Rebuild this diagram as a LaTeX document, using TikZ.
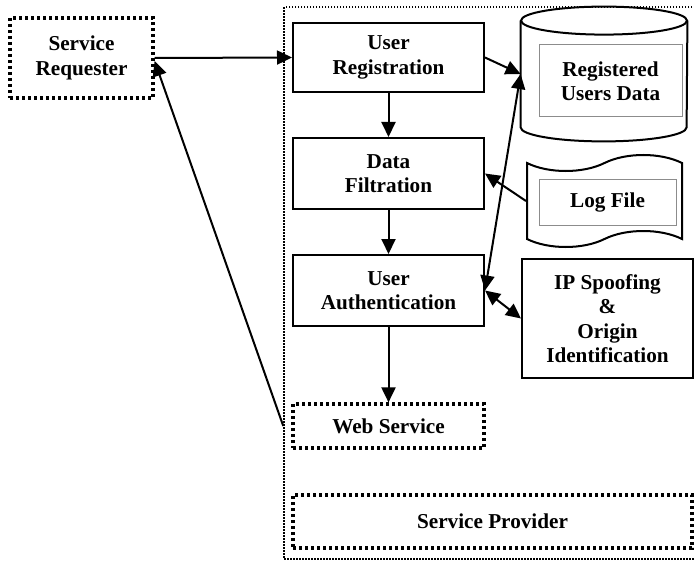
\documentclass[tikz,border=0pt]{standalone}
\usepackage{fontspec}
\setmainfont{Liberation Serif}
\usepackage{tikz}
\usetikzlibrary{shapes.symbols,arrows.meta}
\definecolor{innergray}{RGB}{140, 140, 140}

\tikzset{
    every node/.style={font=\bfseries\fontsize{10.6}{12.2}\selectfont, align=center},
    procbox/.style={draw, line width=1pt, minimum width=95.5pt, inner sep=0pt},
    dotbox/.style={draw, line width=1.6pt, dash pattern=on 1.5pt off 1.5pt, inner sep=0pt},
    innerbox/.style={draw=innergray, line width=0.5pt, inner sep=0pt},
    arr/.style={line width=1pt, -{Triangle[length=7.5pt, width=7pt]}},
    dblarr/.style={line width=1pt, {Triangle[length=7.5pt, width=7pt]}-{Triangle[length=7.5pt, width=7pt]}}
}

\begin{document}
\begin{tikzpicture}[x=0.5pt, y=-0.5pt]
    \useasboundingbox (0,0) rectangle (694,561);
    % provider side
    \node[draw, line width=0.75pt, dash pattern=on 0.75pt off 0.75pt, minimum width=207pt, minimum height=276pt] (area) at (491,283) {};

    \node[dotbox, minimum width=71.5pt, minimum height=40pt] (requester) at (81.5,58) {Service\\Requester};
    \node[procbox, minimum height=34.5pt] (registration) at (388.5,57.5) {User\\Registration};
    \node[procbox, minimum height=35.5pt] (filtration) at (388.5,173.5) {Data\\Filtration};
    \node[procbox, minimum height=35.5pt] (authentication) at (388.5,290.5) {User\\Authentication};
    \node[dotbox, minimum width=95.5pt, minimum height=22pt] (webservice) at (388.5,426) {Web Service};
    \node[dotbox, minimum width=199.5pt, minimum height=26.5pt] (provider) at (492.5,521.5) {Service Provider};

    % database drum
    \node[minimum width=83pt, minimum height=67pt, inner sep=0pt] (usersdb) at (604,74) {};
    \draw[line width=1pt] ([yshift=-7pt]usersdb.north west) -- ([yshift=7pt]usersdb.south west)
        arc[start angle=180, end angle=360, x radius=41.5pt, y radius=7pt]
        -- ([yshift=-7pt]usersdb.north east);
    \draw[line width=1pt] ([yshift=-7pt]usersdb.north) ellipse[x radius=41.5pt, y radius=7pt];
    \node[innerbox, minimum width=71.5pt, minimum height=36pt] (usersdbtxt) at (610.5,81) {Registered\\Users Data};

    \node[draw, line width=1pt, tape, tape bend height=8pt, minimum width=77.5pt, minimum height=46pt, inner sep=0pt] (logfile) at (604.5,201) {};
    \node[innerbox, minimum width=68.5pt, minimum height=23pt] (logfiletxt) at (607.5,202) {Log File};
    \node[procbox, minimum width=85.5pt, minimum height=59.5pt] (spoofing) at (607.5,318.5) {IP Spoofing\\\&\\Origin\\Identification};

    \draw[arr] (requester.east) -- (registration.west);
    \draw[arr] (area.west |- webservice.west) -- ([yshift=-1.5pt]requester.east);
    \draw[arr] (registration.east) -- (usersdb.west);
    \draw[arr] (registration.south) -- (filtration.north);
    \draw[arr] (filtration.south) -- (authentication.north);
    \draw[arr] (authentication.south) -- (webservice.north);
    \draw[arr] (logfile.west) -- (filtration.east);
    \draw[dblarr] (usersdb.west) -- (authentication.east);
    \draw[dblarr] (authentication.east) -- (spoofing.west);
\end{tikzpicture}
\end{document}
